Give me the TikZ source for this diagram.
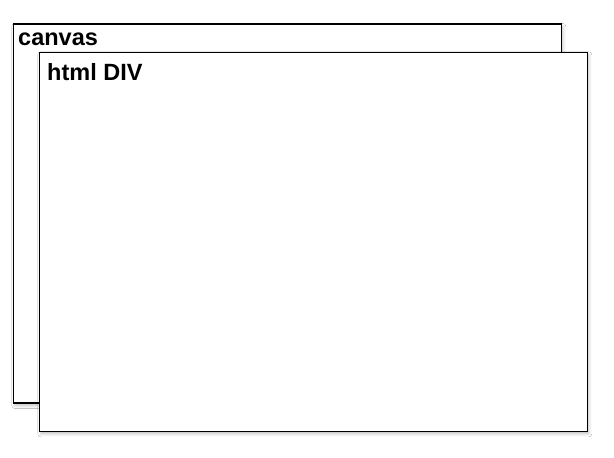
\documentclass[tikz,border=0pt]{standalone}
\usepackage{fontspec}
\setmainfont{Liberation Sans}
\usetikzlibrary{shadows.blur}
\begin{document}
\begin{tikzpicture}[x=1pt,y=-1pt,
  panel/.style={draw=black,line width=1.2pt,fill=white,
    blur shadow={shadow xshift=1.5pt,shadow yshift=-2.5pt,shadow blur radius=3pt,shadow opacity=25}},
  lbl/.style={anchor=base west,inner sep=0pt,font=\fontsize{23.5}{26}\selectfont\bfseries}]
\useasboundingbox (0,0) rectangle (614,458);
\fill[white] (0,0) rectangle (614,458);
\path[panel] (13.3,24) rectangle (561.3,403);
\node[lbl] (canvaslbl) at (18,45) {canvas};
\path[panel] (39.3,52.3) rectangle (587.3,431.3);
\node[lbl] (divlbl) at (47,80) {html DIV};
\end{tikzpicture}
\end{document}
